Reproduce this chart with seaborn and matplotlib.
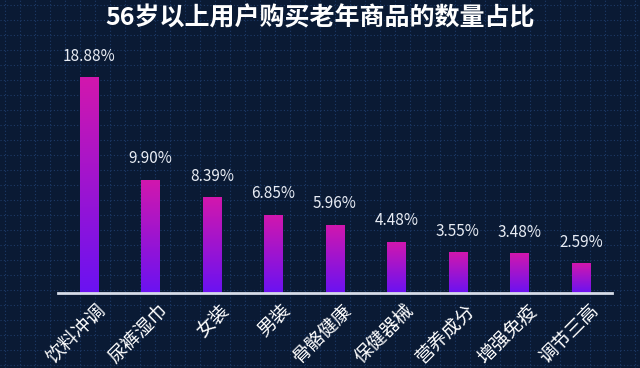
import numpy as np
import pandas as pd
import matplotlib
matplotlib.use("Agg")
import matplotlib.pyplot as plt
import matplotlib.transforms as mtransforms
from matplotlib.colors import LinearSegmentedColormap
import seaborn as sns

categories = ["饮料冲调", "尿裤湿巾", "女装", "男装", "骨骼健康", "保健器械", "营养成分", "增强免疫", "调节三高"]
shares = [18.88, 9.90, 8.39, 6.85, 5.96, 4.48, 3.55, 3.48, 2.59]
value_labels = ["18.88%", "9.90%", "8.39%", "6.85%", "5.96%", "4.48%", "3.55%", "3.48%", "2.59%"]
title = "56岁以上用户购买老年商品的数量占比"

df = pd.DataFrame({"category": categories, "share": shares})

sns.set_style("dark")
plt.rcParams["font.family"] = ["Noto Sans CJK SC", "DejaVu Sans"]

bg = "#0a1a34"
fig = plt.figure(figsize=(6.4, 3.68), dpi=100)
fig.patch.set_facecolor(bg)

# dotted background grid over the whole figure
grid_ax = fig.add_axes([0, 0, 1, 1])
grid_ax.set_xlim(0, 640)
grid_ax.set_ylim(368, 0)
grid_ax.set_facecolor(bg)
for gx in np.arange(5, 640, 15):
    grid_ax.axvline(gx, color="#1d3a68", lw=0.8, ls=(0, (1, 2)))
for gy in np.arange(5, 368, 15):
    grid_ax.axhline(gy, color="#1d3a68", lw=0.8, ls=(0, (1, 2)))
grid_ax.axis("off")

ax = fig.add_axes([0.0906, 0.2038, 0.865, 0.633])
ax.set_facecolor("none")
sns.barplot(data=df, x="category", y="share", ax=ax, width=0.3, color="#a010d0",
            linewidth=0, edgecolor="none")

cmap = LinearSegmentedColormap.from_list("grad", ["#6a12f2", "#d217ad"])
grad = np.linspace(0, 1, 256).reshape(-1, 1)
for patch in ax.patches:
    x0, y0 = patch.get_x(), patch.get_y()
    w, h = patch.get_width(), patch.get_height()
    im = ax.imshow(grad, extent=[x0, x0 + w, y0, y0 + h], origin="lower",
                   cmap=cmap, aspect="auto", zorder=patch.get_zorder() + 0.1)
    im.set_clip_path(patch)

for i, (v, lab) in enumerate(zip(shares, value_labels)):
    ax.text(i, v + 1.1, lab, ha="center", va="bottom", color="#e8ecf4", fontsize=11)

ax.set_xlim(-0.5, 8.5)
ax.set_ylim(0, 20.4)
ax.set_xlabel("")
ax.set_ylabel("")
ax.set_yticks([])
ax.grid(False)
for s in ["top", "right", "left"]:
    ax.spines[s].set_visible(False)
ax.spines["bottom"].set_color("#d6dce8")
ax.spines["bottom"].set_linewidth(2)
ax.tick_params(axis="x", length=0, pad=5, colors="white")
offset = mtransforms.ScaledTranslation(7 / 100, 0, fig.dpi_scale_trans)
for lab in ax.get_xticklabels():
    lab.set_rotation(45)
    lab.set_ha("right")
    lab.set_rotation_mode("anchor")
    lab.set_fontsize(13.5)
    lab.set_color("white")
    lab.set_transform(lab.get_transform() + offset)

fig.text(0.5, 0.95, title, ha="center", va="center", color="white",
         fontsize=18, fontweight="bold")

fig.savefig("out.png", dpi=100, facecolor=bg)
